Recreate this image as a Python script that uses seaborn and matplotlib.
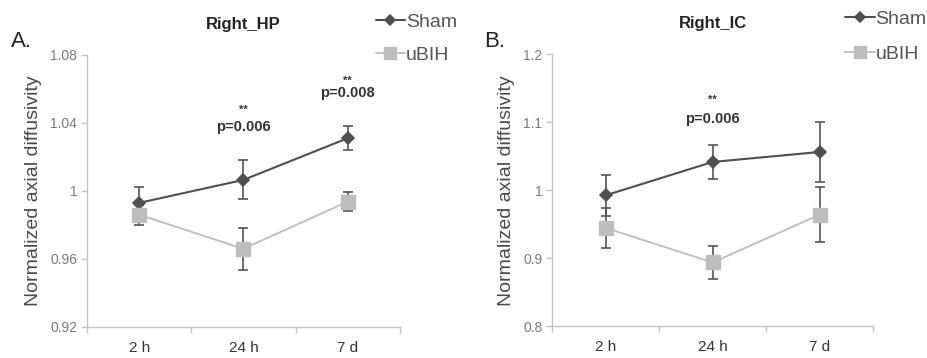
import matplotlib
matplotlib.use("Agg")
import matplotlib.pyplot as plt
import seaborn as sns
import pandas as pd
import numpy as np

times = ["2 h", "24 h", "7 d"]
groups = ["Sham", "uBIH"]

hp_sham = [0.993, 1.0065, 1.031]
hp_sham_err = [0.0095, 0.0115, 0.007]
hp_ubih = [0.986, 0.966, 0.9937]
hp_ubih_err = [0.006, 0.0125, 0.0055]

ic_sham = [0.9926, 1.0417, 1.0564]
ic_sham_err = [0.030, 0.0255, 0.0435]
ic_ubih = [0.9446, 0.8937, 0.9642]
ic_ubih_err = [0.030, 0.025, 0.040]

hp_yticks = [0.92, 0.96, 1.0, 1.04, 1.08]
hp_yticklabels = ["0.92", "0.96", "1", "1.04", "1.08"]
ic_yticks = [0.8, 0.9, 1.0, 1.1, 1.2]
ic_yticklabels = ["0.8", "0.9", "1", "1.1", "1.2"]

sns.set_theme(style="white")
plt.rcParams['font.family'] = ['Liberation Sans', 'DejaVu Sans']

SHAM_C = "#4f4f4f"
UBIH_C = "#bdbdbd"
ERR_C = "#555555"
SPINE_C = "#c4c4c4"

fig = plt.figure(figsize=(9.28, 3.58), dpi=100)
axA = fig.add_axes([0.0938, 0.0866, 0.337, 0.760])
axB = fig.add_axes([0.595, 0.089, 0.346, 0.759])


def draw(ax, sham, sham_err, ubih, ubih_err, yticks, yticklabels, title, letter,
         annots, legend_xy, letter_x, spacing):
    df = pd.DataFrame({
        "time": times * 2,
        "value": list(sham) + list(ubih),
        "group": [groups[0]] * 3 + [groups[1]] * 3,
    })
    xs = np.arange(len(times))
    ax.errorbar(xs, sham, yerr=sham_err, fmt="none", ecolor=ERR_C,
                elinewidth=1.2, capsize=3.5, capthick=1.2, zorder=2)
    sns.pointplot(data=df[df.group == "Sham"], x="time", y="value", order=times,
                  color=SHAM_C, markers="D", markersize=6, linewidth=1.5,
                  errorbar=None, ax=ax, zorder=3)
    ax.errorbar(xs, ubih, yerr=ubih_err, fmt="none", ecolor=ERR_C,
                elinewidth=1.2, capsize=3.5, capthick=1.2, zorder=4)
    sns.pointplot(data=df[df.group == "uBIH"], x="time", y="value", order=times,
                  color=UBIH_C, markers="s", markersize=10, linewidth=1.3,
                  errorbar=None, ax=ax, zorder=5)
    ax.set_xlim(-0.5, 2.5)
    ax.set_ylim(yticks[0], yticks[-1])
    ax.set_yticks(yticks)
    ax.set_yticklabels(yticklabels)
    ax.set_xticks([-0.5, 0.5, 1.5, 2.5])
    ax.set_xticklabels([])
    ax.set_xticks(xs, minor=True)
    ax.set_xticklabels(times, minor=True)
    ax.tick_params(axis="x", which="major", length=4, width=1, color=SPINE_C,
                   direction="out", bottom=True)
    ax.tick_params(axis="x", which="minor", length=0, labelsize=11,
                   labelcolor="#333333", pad=10)
    ax.tick_params(axis="y", which="major", length=4, width=1, color=SPINE_C,
                   direction="out", left=True, labelsize=10,
                   labelcolor="#7a7a7a", pad=3)
    for s in ["top", "right"]:
        ax.spines[s].set_visible(False)
    for s in ["left", "bottom"]:
        ax.spines[s].set_color(SPINE_C)
        ax.spines[s].set_linewidth(1.0)
    ax.set_xlabel("")
    ax.set_ylabel("Normalized axial diffusivity", fontsize=14, color="#4a4a4a",
                  labelpad=6)
    ax.set_title(title, fontsize=12, fontweight="bold", color="#222222", pad=19)
    ax.grid(False)
    for (xi, ystar, yp, txt) in annots:
        ax.text(xi, ystar, "**", ha="center", va="center", fontsize=8,
                fontweight="bold", color="#333333")
        ax.text(xi, yp, txt, ha="center", va="center", fontsize=10.5,
                fontweight="bold", color="#333333")
    fig.text(letter_x, 0.885, letter, fontsize=16, color="#222222",
             ha="left", va="center")
    handles = ax.get_lines()
    sham_line = [l for l in handles if l.get_marker() == "D"][0]
    ubih_line = [l for l in handles if l.get_marker() == "s"][0]
    leg = fig.legend([sham_line, ubih_line], groups, loc="upper left",
                     bbox_to_anchor=legend_xy, frameon=False, fontsize=14,
                     handlelength=1.5, handletextpad=0.05, labelspacing=spacing,
                     borderpad=0, borderaxespad=0, markerscale=0.8)
    for t in leg.get_texts():
        t.set_color("#555555")


draw(axA, hp_sham, hp_sham_err, hp_ubih, hp_ubih_err, hp_yticks, hp_yticklabels,
     "Right_HP", "A.",
     [(1, 1.0475, 1.0376, "p=0.006"), (2, 1.0645, 1.0576, "p=0.008")],
     (0.405, 0.963), 0.012, 0.8)
draw(axB, ic_sham, ic_sham_err, ic_ubih, ic_ubih_err, ic_yticks, ic_yticklabels,
     "Right_IC", "B.",
     [(1, 1.1328, 1.1049, "p=0.006")],
     (0.911, 0.972), 0.522, 0.9)

fig.savefig("out.png", dpi=100)
